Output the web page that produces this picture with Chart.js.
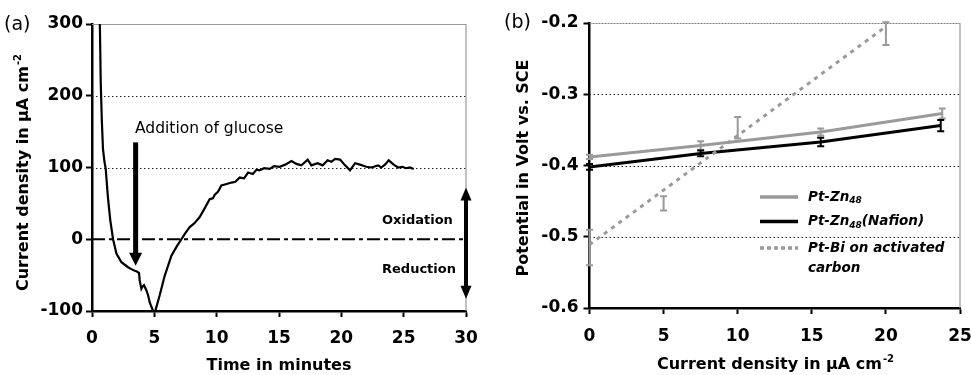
<!DOCTYPE html>
<html>
<head>
<meta charset="utf-8">
<script src="https://cdn.jsdelivr.net/npm/chart.js@4"></script>
<style>
  body { margin: 0; background: #fff; }
  #wrap { position: relative; width: 971px; height: 375px; }
  canvas { position: absolute; top: 0; }
</style>
</head>
<body>
<div id="wrap">
  <canvas id="chartA" width="485" height="375" style="left:0"></canvas>
  <canvas id="chartB" width="486" height="375" style="left:485px"></canvas>
</div>
<script>
// (a) current density vs time
const timeMin = [0.16, 0.56, 0.64, 0.70, 0.79, 0.88, 1.0, 1.1, 1.28, 1.47, 1.69, 1.96, 2.36, 2.89, 3.2, 3.43, 3.6, 3.77, 3.83, 3.96,
  4.05, 4.17, 4.36, 4.5, 4.63, 4.9, 5.0, 5.09, 5.43, 5.83, 6.37, 6.8, 7.17, 7.5, 7.84, 8.2, 8.64, 9.0, 9.45, 9.7,
  9.85, 10.1, 10.38, 10.8, 11.19, 11.5, 11.85, 12.2, 12.52, 12.9, 13.2, 13.45, 13.8, 14.25, 14.6, 15.05, 15.5, 16.0, 16.4, 16.8,
  17.3, 17.6, 18.1, 18.5, 18.9, 19.2, 19.5, 19.9, 20.3, 20.7, 21.1, 21.5, 22.0, 22.4, 22.95, 23.2, 23.5, 23.8, 24.2, 24.55,
  24.9, 25.2, 25.5, 25.8];
const currentDensity = [330, 340, 290, 219, 165, 126, 108, 98, 58, 26, 0, -20, -32, -39, -42, -44, -45, -47, -58, -69,
  -66, -64, -71, -78, -88, -100, -103, -99, -78, -51, -23, -10, 0, 9, 17, 22, 31, 42, 56, 57,
  62, 66, 75, 77, 79, 80, 86, 85, 93, 91, 97, 96, 99, 98, 102, 101, 104, 109, 105, 103,
  111, 103, 106, 103, 110, 108, 112, 111, 103, 96, 106, 104, 101, 100, 103, 100, 104, 110, 104, 100,
  101, 99, 100, 98];
const timeTicks = [0, 30, 5];        // min, max, step
const densityTicks = [-100, 300, 100];

// (b) potential vs current density
const jPtZn = [0, 7.5, 15.6, 23.8];
const ePtZn = [-0.388, -0.372, -0.353, -0.327];
const errPtZn = [0.003, 0.006, 0.005, 0.007];
const jPtZnNafion = [0, 7.5, 15.6, 23.7];
const ePtZnNafion = [-0.402, -0.383, -0.367, -0.344];
const errPtZnNafion = [0.004, 0.004, 0.006, 0.008];
const jPtBi = [0, 5, 10, 20];
const ePtBi = [-0.515, -0.453, -0.347, -0.215];
const errPtBi = [0.025, 0.01, 0.015, 0.016];
const jPtBiTrend = [0, 20];
const ePtBiTrend = [-0.511, -0.205];
const jTicks = [0, 25, 5];
const eTicks = [-0.6, -0.2, 0.1];
const legendLabels = [['Pt-Zn', '48', ''], ['Pt-Zn', '48', '(Nafion)'], ['Pt-Bi on activated', '', '']];

// annotation anchors (data units)
const glucoseArrow = { t: 3.5, from: 135, to: -37 };
const redoxArrow = { t: 30, top: 72, bottom: -83 };

const FONT = '"DejaVu Sans", sans-serif';
const GREY = '#9a9a9a';
const tickFont = { family: FONT, size: 17, weight: 'bold' };

const pts = (xs, ys) => xs.map((x, i) => ({ x: x, y: ys[i] }));

function hLine(ctx, x1, x2, y, color, width, dash) {
  ctx.save();
  ctx.strokeStyle = color; ctx.lineWidth = width; ctx.setLineDash(dash || []);
  ctx.beginPath(); ctx.moveTo(x1, y); ctx.lineTo(x2, y); ctx.stroke();
  ctx.restore();
}
function vLine(ctx, x, y1, y2, color, width, dash) {
  ctx.save();
  ctx.strokeStyle = color; ctx.lineWidth = width; ctx.setLineDash(dash || []);
  ctx.beginPath(); ctx.moveTo(x, y1); ctx.lineTo(x, y2); ctx.stroke();
  ctx.restore();
}
function arrowHead(ctx, x, tipY, dir, w, h) {
  ctx.beginPath();
  ctx.moveTo(x, tipY);
  ctx.lineTo(x - w / 2, tipY - dir * h);
  ctx.lineTo(x + w / 2, tipY - dir * h);
  ctx.closePath(); ctx.fill();
}
// text with superscript, centred on x
function supText(ctx, main, sup, x, y, size) {
  ctx.font = 'bold ' + size + 'px ' + FONT;
  const w1 = ctx.measureText(main).width;
  ctx.font = 'bold ' + Math.round(size * 0.62) + 'px ' + FONT;
  const w2 = ctx.measureText(sup).width;
  const x0 = x - (w1 + w2) / 2;
  ctx.textAlign = 'left';
  ctx.font = 'bold ' + size + 'px ' + FONT;
  ctx.fillText(main, x0, y);
  ctx.font = 'bold ' + Math.round(size * 0.62) + 'px ' + FONT;
  ctx.fillText(sup, x0 + w1 + 1, y - size * 0.45);
}
function dotGrid(chart, values) {
  const { ctx, chartArea, scales } = chart;
  values.forEach(v => hLine(ctx, chartArea.left, chartArea.right, Math.round(scales.y.getPixelForValue(v)) + 0.5, '#222', 1, [1.5, 2.5]));
}

const annotA = {
  id: 'annotA',
  beforeDatasetsDraw(chart) {
    const { ctx, chartArea: a, scales } = chart;
    dotGrid(chart, [100, 200]);
    hLine(ctx, a.left, a.right, a.top + 0.5, GREY, 1.2);
    vLine(ctx, a.right, a.top, a.bottom, GREY, 1.2);
    const y0 = scales.y.getPixelForValue(0);
    hLine(ctx, a.left, a.right, y0, '#000', 2, [13, 4, 4, 4]);
  },
  afterDraw(chart) {
    const { ctx, scales } = chart;
    ctx.save();
    ctx.fillStyle = '#000';
    // glucose arrow
    const gx = scales.x.getPixelForValue(glucoseArrow.t);
    const gTop = scales.y.getPixelForValue(glucoseArrow.from);
    const gTip = scales.y.getPixelForValue(glucoseArrow.to);
    ctx.fillRect(gx - 2.5, gTop, 5, gTip - gTop - 12);
    arrowHead(ctx, gx, gTip, 1, 13, 13);
    // oxidation/reduction arrow
    const rx = scales.x.getPixelForValue(redoxArrow.t);
    const rTop = scales.y.getPixelForValue(redoxArrow.top);
    const rBot = scales.y.getPixelForValue(redoxArrow.bottom);
    ctx.fillRect(rx - 2, rTop + 12, 4, rBot - rTop - 24);
    arrowHead(ctx, rx, rTop, -1, 11, 13);
    arrowHead(ctx, rx, rBot, 1, 11, 13);
    // texts
    ctx.textBaseline = 'alphabetic';
    ctx.textAlign = 'left';
    ctx.font = '15.5px ' + FONT;
    ctx.fillText('Addition of glucose', 135, 133);
    ctx.font = 'bold 13px ' + FONT;
    ctx.fillText('Oxidation', 382, 224);
    ctx.fillText('Reduction', 382, 273);
    ctx.font = '19px ' + FONT;
    ctx.textBaseline = 'middle';
    ctx.fillText('(a)', 4, 25);
    ctx.textBaseline = 'alphabetic';
    ctx.font = 'bold 16px ' + FONT;
    ctx.textAlign = 'center';
    ctx.fillText('Time in minutes', 279, 370);
    ctx.translate(28, 173);
    ctx.rotate(-Math.PI / 2);
    supText(ctx, 'Current density in \u03bcA cm', '-2', 0, 0, 16);
    ctx.restore();
  }
};

const errorBars = {
  id: 'errorBars',
  afterDatasetsDraw(chart) {
    const { ctx, scales } = chart;
    chart.data.datasets.forEach(ds => {
      if (!ds.errors) return;
      ctx.save();
      ctx.strokeStyle = ds.errColor; ctx.lineWidth = 2;
      ds.data.forEach((p, i) => {
        const x = scales.x.getPixelForValue(p.x);
        const yHi = scales.y.getPixelForValue(p.y + ds.errors[i]);
        const yLo = scales.y.getPixelForValue(p.y - ds.errors[i]);
        ctx.beginPath();
        ctx.moveTo(x, yHi); ctx.lineTo(x, yLo);
        ctx.moveTo(x - 3.5, yHi); ctx.lineTo(x + 3.5, yHi);
        ctx.moveTo(x - 3.5, yLo); ctx.lineTo(x + 3.5, yLo);
        ctx.stroke();
      });
      ctx.restore();
    });
  }
};

const annotB = {
  id: 'annotB',
  beforeDatasetsDraw(chart) {
    const { ctx, chartArea: a } = chart;
    dotGrid(chart, [-0.3, -0.4, -0.5]);
    hLine(ctx, a.left, a.right, a.top + 0.5, '#777', 1.2, [2, 1]);
    vLine(ctx, a.right, a.top, a.bottom, GREY, 1.2);
  },
  afterDraw(chart) {
    const { ctx } = chart;
    ctx.save();
    // legend
    const lx1 = 275, lx2 = 313, tx = 323;
    const rows = [197, 221.5, 248];
    hLine(ctx, lx1, lx2, rows[0], GREY, 3.5);
    hLine(ctx, lx1, lx2, rows[1], '#000', 3.5);
    hLine(ctx, lx1, lx2, rows[2], GREY, 3.5, [4, 3]);
    ctx.fillStyle = '#000';
    ctx.textBaseline = 'middle';
    ctx.textAlign = 'left';
    legendLabels.forEach((parts, i) => {
      let x = tx;
      ctx.font = 'italic bold 13.5px ' + FONT;
      ctx.fillText(parts[0], x, rows[i]);
      x += ctx.measureText(parts[0]).width;
      if (parts[1]) {
        ctx.font = 'italic bold 9px ' + FONT;
        ctx.fillText(parts[1], x, rows[i] + 4);
        x += ctx.measureText(parts[1]).width;
      }
      if (parts[2]) {
        ctx.font = 'italic bold 13.5px ' + FONT;
        ctx.fillText(parts[2], x, rows[i]);
      }
    });
    ctx.font = 'italic bold 13.5px ' + FONT;
    ctx.fillText('carbon', tx, 268);
    // panel label and titles
    ctx.font = '19px ' + FONT;
    ctx.fillText('(b)', 19, 23);
    ctx.textBaseline = 'alphabetic';
    supText(ctx, 'Current density in \u03bcA cm', '-2', 290, 369, 16);
    ctx.translate(39, 168);
    ctx.rotate(-Math.PI / 2);
    ctx.font = 'bold 16px ' + FONT;
    ctx.textAlign = 'center';
    ctx.textBaseline = 'middle';
    ctx.fillText('Potential in Volt vs. SCE', 0, 0);
    ctx.restore();
  }
};

function axis(min, max, step, padding, fitKey, fitVal, fmt) {
  return {
    type: 'linear', min: min, max: max,
    ticks: { stepSize: step, font: tickFont, color: '#000', padding: padding, callback: fmt },
    grid: { drawOnChartArea: false, drawTicks: true, tickLength: 6, tickWidth: 2, tickColor: '#000' },
    border: { color: '#000', width: 2.5 },
    afterFit(s) {
      s[fitKey] = fitVal;
      // keep the plot box where the layout padding puts it
      s.paddingLeft = 0; s.paddingRight = 0; s.paddingTop = 0; s.paddingBottom = 0;
    }
  };
}

new Chart(document.getElementById('chartA'), {
  type: 'scatter',
  data: {
    datasets: [{
      data: pts(timeMin, currentDensity),
      showLine: true, borderColor: '#000', borderWidth: 2.2, pointRadius: 0, tension: 0
    }]
  },
  options: {
    responsive: false, animation: false, devicePixelRatio: 1,
    layout: { padding: { left: 0, right: 19, top: 24, bottom: 0 } },
    plugins: { legend: { display: false }, tooltip: { enabled: false } },
    scales: {
      x: axis(timeTicks[0], timeTicks[1], timeTicks[2], 11, 'height', 64),
      y: axis(densityTicks[0], densityTicks[1], densityTicks[2], 3, 'width', 92)
    }
  },
  plugins: [annotA]
});

new Chart(document.getElementById('chartB'), {
  type: 'scatter',
  data: {
    datasets: [
      { data: pts(jPtBiTrend, ePtBiTrend), showLine: true, borderColor: GREY, borderWidth: 3, borderDash: [4, 5], pointRadius: 0 },
      { data: pts(jPtBi, ePtBi), showLine: false, pointRadius: 0, errors: errPtBi, errColor: GREY },
      { data: pts(jPtZn, ePtZn), showLine: true, borderColor: GREY, borderWidth: 3, pointRadius: 0, errors: errPtZn, errColor: GREY },
      { data: pts(jPtZnNafion, ePtZnNafion), showLine: true, borderColor: '#000', borderWidth: 3, pointRadius: 0, errors: errPtZnNafion, errColor: '#000' }
    ]
  },
  options: {
    responsive: false, animation: false, devicePixelRatio: 1,
    layout: { padding: { left: 0, right: 11, top: 23, bottom: 0 } },
    plugins: { legend: { display: false }, tooltip: { enabled: false } },
    scales: {
      x: axis(jTicks[0], jTicks[1], jTicks[2], 12, 'height', 67),
      y: axis(eTicks[0], eTicks[1], eTicks[2], 5, 'width', 104.5, v => v.toFixed(1))
    }
  },
  plugins: [annotB, errorBars]
});
</script>
</body>
</html>
